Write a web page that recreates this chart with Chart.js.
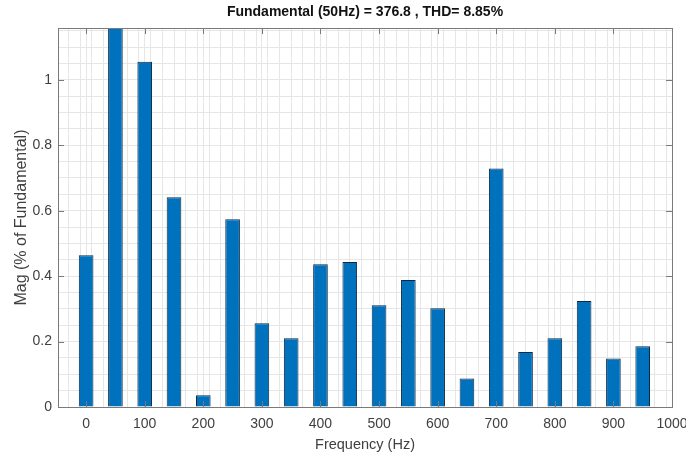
<!DOCTYPE html>
<html>
<head>
<meta charset="utf-8">
<script src="https://cdn.jsdelivr.net/npm/chart.js@4.4.0/dist/chart.umd.min.js"></script>
<style>
  html, body { margin: 0; padding: 0; background: #fff; }
</style>
</head>
<body>
<canvas id="fft-chart" width="686" height="457"></canvas>
<script>
// harmonic frequencies (Hz)
var freqs = [0, 50, 100, 150, 200, 250, 300, 350, 400, 450, 500, 550, 600, 650, 700, 750, 800, 850, 900, 950];
// magnitude in % of fundamental, the 50Hz one is the fundamental itself (off the top)
var mags = [0.464, 100, 1.055, 0.641, 0.036, 0.574, 0.256, 0.210, 0.436, 0.443, 0.311, 0.388, 0.302, 0.087, 0.729, 0.168, 0.210, 0.324, 0.148, 0.186];
var xTicks = [0, 100, 200, 300, 400, 500, 600, 700, 800, 900, 1000];
var yTicks = [0, 0.2, 0.4, 0.6, 0.8, 1];

var xMin = -48, xMax = 1000;
var yMin = 0, yMax = 1.158;

var points = freqs.map(function(f, i){ return {x: f, y: mags[i]}; });

// box round the axes + the little inward tick marks, like matlab
var frame = {
  id: 'frame',
  afterDatasetsDraw: function(chart) {
    var ctx = chart.ctx, a = chart.chartArea;
    var sx = chart.scales.x, sy = chart.scales.y;
    ctx.save();
    ctx.strokeStyle = '#7a7a7a';
    ctx.lineWidth = 1;
    ctx.beginPath();
    sx.ticks.forEach(function(t){
      var px = Math.round(sx.getPixelForValue(t.value)) + 0.5;
      ctx.moveTo(px, a.bottom); ctx.lineTo(px, a.bottom - 6);
      ctx.moveTo(px, a.top); ctx.lineTo(px, a.top + 6);
    });
    sy.ticks.forEach(function(t){
      var py = Math.round(sy.getPixelForValue(t.value)) + 0.5;
      ctx.moveTo(a.left, py); ctx.lineTo(a.left + 6, py);
      ctx.moveTo(a.right, py); ctx.lineTo(a.right - 6, py);
    });
    ctx.stroke();
    ctx.strokeRect(Math.round(a.left) + 0.5, Math.round(a.top) + 0.5,
      Math.round(a.right - a.left), Math.round(a.bottom - a.top));
    ctx.restore();
  }
};

var minorGrid = {color: '#e6e6e6', lineWidth: 1, borderDash: [1, 3], drawTicks: false};

new Chart(document.getElementById('fft-chart'), {
  type: 'bar',
  data: {
    datasets: [{
      data: points,
      xAxisID: 'x',
      yAxisID: 'y',
      backgroundColor: '#0072BD',
      borderColor: '#0d2a45',
      borderWidth: 1,
      barPercentage: 0.5,
      categoryPercentage: 1.0,
      clip: 0
    }]
  },
  options: {
    responsive: false,
    animation: false,
    layout: { padding: {left: 0, right: 14, top: 0, bottom: 0} },
    plugins: {
      legend: {display: false},
      tooltip: {enabled: false},
      title: {
        display: true,
        fullSize: false,
        text: 'Fundamental (50Hz) = 376.8 , THD= 8.85%',
        color: '#111',
        font: {family: 'Liberation Sans, Arial, sans-serif', size: 14, weight: 'bold', lineHeight: 1.15},
        padding: {top: 4, bottom: 8}
      }
    },
    scales: {
      x: {
        type: 'linear', position: 'bottom', min: xMin, max: xMax, offset: false,
        afterBuildTicks: function(s){ s.ticks = xTicks.map(function(v){ return {value: v}; }); },
        ticks: {
          color: '#404040', padding: 9, maxRotation: 0,
          font: {family: 'Liberation Sans, Arial, sans-serif', size: 14},
          callback: function(v){ return String(v); }
        },
        grid: {color: '#e6e6e6', lineWidth: 1, drawTicks: false, offset: false},
        border: {display: false},
        title: {
          display: true, text: 'Frequency (Hz)', color: '#404040',
          font: {family: 'Liberation Sans, Arial, sans-serif', size: 14.5},
          padding: {top: 0, bottom: 3}
        },
        afterFit: function(s){ s.height = 50; s.paddingLeft = 0; s.paddingRight = 0; }
      },
      y: {
        type: 'linear', position: 'left', min: yMin, max: yMax,
        afterBuildTicks: function(s){ s.ticks = yTicks.map(function(v){ return {value: v}; }); },
        ticks: {
          color: '#404040', padding: 6,
          font: {family: 'Liberation Sans, Arial, sans-serif', size: 14},
          callback: function(v){ return String(v); }
        },
        grid: {color: '#e6e6e6', lineWidth: 1, drawTicks: false},
        border: {display: false},
        title: {
          display: true, text: 'Mag (% of Fundamental)', color: '#404040',
          font: {family: 'Liberation Sans, Arial, sans-serif', size: 16},
          padding: {top: 12, bottom: 0}
        },
        afterFit: function(s){ s.width = 58; s.paddingTop = 0; s.paddingBottom = 0; }
      },
      // minor grid only
      xm: {
        type: 'linear', position: 'bottom', min: xMin, max: xMax, z: -1, offset: false,
        ticks: {display: false, stepSize: 20, includeBounds: false},
        grid: minorGrid,
        border: {display: false},
        afterFit: function(s){ s.height = 0; }
      },
      ym: {
        type: 'linear', position: 'left', min: yMin, max: yMax, z: -1,
        ticks: {display: false, stepSize: 0.05, includeBounds: false},
        grid: minorGrid,
        border: {display: false},
        afterFit: function(s){ s.width = 0; }
      }
    }
  },
  plugins: [frame]
});
</script>
</body>
</html>
